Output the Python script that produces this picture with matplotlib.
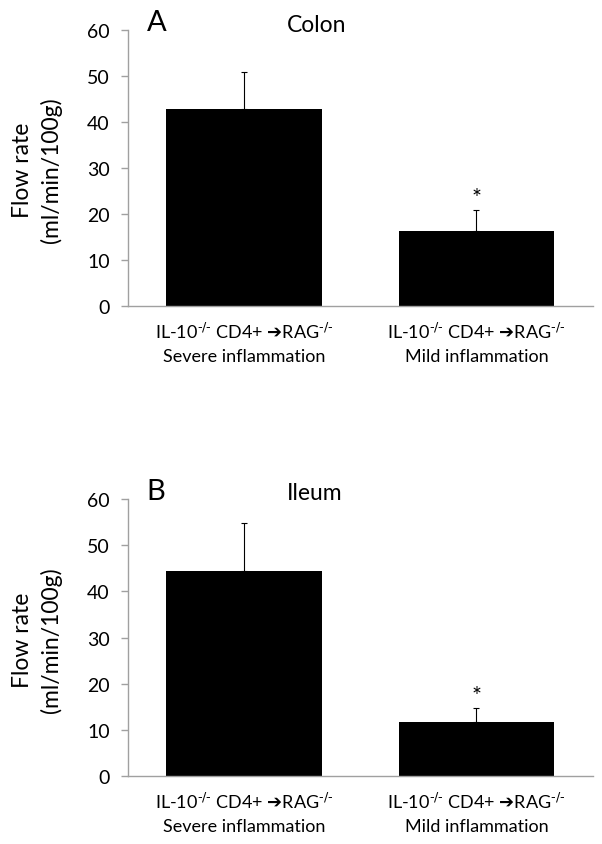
import matplotlib
matplotlib.use("Agg")
import matplotlib.pyplot as plt

plt.rcParams['font.family'] = ['Lato', 'DejaVu Sans']
plt.rcParams['mathtext.fontset'] = 'dejavusans'

# ---- data ----
categories = ["IL-10$^{\\mathrm{‐/‐}}$ CD4+ $\\mathbf{➔}$RAG$^{\\mathrm{‐/‐}}$\nSevere inflammation",
              "IL-10$^{\\mathrm{‐/‐}}$ CD4+ $\\mathbf{➔}$RAG$^{\\mathrm{‐/‐}}$\nMild inflammation"]
colon_means = [42.8, 16.2]
colon_errs = [8.1, 4.6]
ileum_means = [44.4, 11.8]
ileum_errs = [10.4, 3.0]
colon_star = [None, 25.0]
ileum_star = [None, 19.0]
yticks = [0, 10, 20, 30, 40, 50, 60]
panel_letters = ["A", "B"]
panel_titles = ["Colon", "Ileum"]

W, H = 602, 845
fig = plt.figure(figsize=(W / 100, H / 100), dpi=100)

axis_gray = "#a0a0a0"


def px(x0, y_top, x1, y_bot):
    return [x0 / W, 1 - y_bot / H, (x1 - x0) / W, (y_bot - y_top) / H]


panels = [
    dict(rect=px(127.7, 30.7, 592.7, 306.7), means=colon_means, errs=colon_errs,
         stars=colon_star, letter_xy=(157, 31), title_xy=(317, 31.5), label_y=170),
    dict(rect=px(127.7, 500, 592.7, 777), means=ileum_means, errs=ileum_errs,
         stars=ileum_star, letter_xy=(156, 500), title_xy=(315, 500), label_y=640),
]

for i, p in enumerate(panels):
    ax = fig.add_axes(p["rect"])
    x = list(range(len(categories)))
    ax.bar(x, p["means"], width=0.668, color="black", edgecolor="none", zorder=2)
    ax.errorbar(x, p["means"], yerr=[[0] * len(x), p["errs"]], fmt="none",
                ecolor="black", elinewidth=0.8, capsize=2.2, capthick=0.8, zorder=3)
    for xi, s in zip(x, p["stars"]):
        if s is not None:
            ax.text(xi, s - 1.5, "*", ha="center", va="center", fontsize=17, color="black")
    ax.set_xlim(-0.5, len(categories) - 0.5)
    ax.set_ylim(0, 60)
    ax.set_yticks(yticks)
    ax.set_yticklabels([str(t) for t in yticks], fontsize=14)
    ax.set_xticks(x)
    ax.set_xticklabels(categories, fontsize=13, linespacing=1.5)
    ax.tick_params(axis="x", length=0, pad=11)
    ax.tick_params(axis="y", length=5, width=1, color=axis_gray, pad=8, direction="out")
    for side in ("top", "right"):
        ax.spines[side].set_visible(False)
    for side in ("left", "bottom"):
        ax.spines[side].set_color(axis_gray)
        ax.spines[side].set_linewidth(1.0)
    lx, ly = p["letter_xy"]
    fig.text(lx / W, 1 - ly / H, panel_letters[i], ha="center", va="baseline", fontsize=21)
    tx, ty = p["title_xy"]
    fig.text(tx / W, 1 - ty / H, panel_titles[i], ha="center", va="baseline", fontsize=16.5)
    fig.text(37 / W, 1 - p["label_y"] / H, "Flow rate\n(ml/min/100g)", rotation=90,
             ha="center", va="center", multialignment="center", fontsize=16.5,
             linespacing=1.4)

fig.savefig("out.png", dpi=100, facecolor="white")
